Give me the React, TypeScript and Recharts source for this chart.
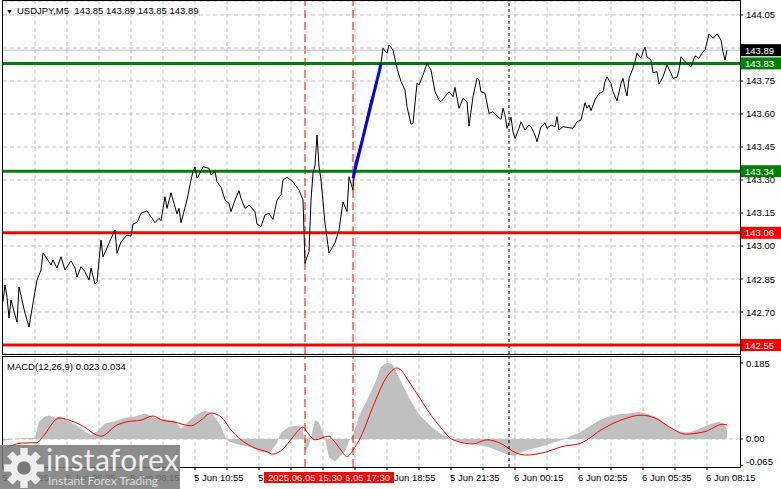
import React from 'react';
import { ComposedChart, Line, Area, XAxis, YAxis, CartesianGrid, ReferenceLine } from 'recharts';

const FONT = '"Liberation Sans", Arial, sans-serif';

// ---- price series (M5 bars counted from 5 Jun 02:55) ----
const priceBars = [0,1,2,3,4,6,7,8,11,13,15,17,19,20,24,25,27,29,31,34,36,37,39,41,43,44,46,47,49,50,53,54,56,57,59,62,64,65,67,69,72,76,78,79,81,82,84,87,88,89,92,94,95,96,97,98,100,103,104,106,107,109,111,113,114,116,118,119,121,123,126,127,129,131,133,135,137,139,140,142,145,148,150,151,152,153,154,155,156,157,158,159,161,163,166,168,170,172,173,175,176,177,180,183,184,186,189,190,192,193,195,197,199,201,202,204,205,207,208,210,212,214,216,218,219,221,223,225,226,228,230,232,233,235,237,238,239,241,243,245,247,249,250,251,252,254,255,256,258,259,261,263,264,266,267,269,271,272,274,276,277,278,280,285,287,289,291,292,293,294,296,298,300,301,302,304,305,307,309,310,311,312,313,315,316,317,319,320,321,322,324,325,327,328,330,332,334,335,337,338,339,341,343,344,346,348,350,351,353,355,357,359,360,361,362];
const priceClose = [142.747,142.823,142.768,142.673,142.754,142.686,142.654,142.814,142.695,142.632,142.741,142.845,142.891,142.969,142.914,142.936,142.900,142.951,142.891,142.933,142.900,142.859,142.906,142.883,142.845,142.899,142.827,142.838,143.027,142.951,143.012,143.035,143.073,142.967,143.019,143.050,143.045,143.100,143.106,143.149,143.160,143.106,143.126,143.115,143.224,143.171,143.242,143.145,143.171,143.106,143.209,143.300,143.338,143.360,143.308,143.323,143.360,143.353,143.323,143.338,143.292,143.267,143.209,143.194,143.156,143.209,143.251,143.217,143.171,143.186,143.156,143.100,143.088,143.141,143.149,143.121,143.209,143.232,143.300,143.312,143.292,143.254,143.209,142.921,142.950,142.974,143.209,143.332,143.368,143.504,143.360,143.300,143.104,142.968,143.014,143.073,143.201,143.156,143.315,143.254,143.377,143.406,143.504,143.627,143.664,143.718,143.830,143.899,143.876,143.914,143.891,143.808,143.747,143.709,143.633,143.554,143.558,143.739,143.732,143.777,143.830,143.800,143.701,143.664,143.656,143.679,143.701,143.679,143.721,143.626,143.671,143.656,143.545,143.679,143.762,143.754,143.701,143.694,143.603,143.610,143.591,143.576,143.626,143.595,143.535,143.585,143.519,143.489,143.535,143.565,143.527,143.550,143.542,143.504,143.474,143.542,143.560,143.535,143.550,143.542,143.588,143.527,143.542,143.535,143.565,143.573,143.651,143.626,143.641,143.615,143.664,143.694,143.701,143.747,143.769,143.739,143.701,143.660,143.739,143.762,143.717,143.682,143.762,143.808,143.838,143.876,143.853,143.883,143.903,143.860,143.845,143.788,143.792,143.736,143.769,143.823,143.785,143.762,143.767,143.800,143.860,143.838,143.823,143.815,143.864,143.853,143.883,143.891,143.964,143.944,143.964,143.936,143.883,143.845,143.890];

// trade projection (blue)
const blueBars = [175, 189];
const blueVals = [143.309, 143.827];

// ---- MACD(12,26,9) ----
const histBars = [0,8,16,18,21,23,26,29,33,37,41,44,47,51,56,61,66,71,76,81,86,89,93,97,101,104,108,111,113,118,123,128,133,137,139,143,147,150,151,153,156,158,161,163,166,168,171,173,175,178,182,186,189,192,195,198,203,208,213,218,223,228,233,238,243,248,253,256,258,263,268,273,278,283,288,293,298,303,308,313,318,323,328,333,338,343,348,353,358,361,362];
const histVals = [-0.005,0.002,0.003,0.042,0.055,0.057,0.052,0.055,0.043,0.032,0.018,0.009,0.018,0.038,0.043,0.052,0.055,0.062,0.052,0.048,0.044,0.025,0.044,0.060,0.068,0.064,0.040,0.006,-0.006,-0.014,-0.018,-0.030,-0.035,-0.010,0.015,0.030,0.032,0.028,-0.030,-0.015,0.045,0.040,0.000,-0.045,-0.055,-0.045,-0.030,-0.005,0.010,0.055,0.095,0.136,0.176,0.186,0.180,0.150,0.100,0.060,0.035,0.015,0.003,-0.006,-0.010,-0.015,-0.020,-0.030,-0.039,-0.042,-0.035,-0.025,-0.020,-0.012,-0.005,0.005,0.015,0.030,0.045,0.055,0.060,0.062,0.066,0.060,0.050,0.030,0.018,0.015,0.025,0.035,0.042,0.035,0.023];
const sigBars = [2,9,17,20,28,33,39,49,57,62,69,75,80,85,94,99,104,109,114,119,126,132,135,140,145,150,152,156,163,165,169,172,175,179,185,192,197,204,209,214,219,225,235,242,249,257,262,272,279,289,292,299,309,319,326,334,341,351,360,362];
const sigVals = [-0.022,-0.010,-0.009,0.006,0.051,0.046,0.034,0.007,0.034,0.042,0.046,0.056,0.045,0.042,0.032,0.046,0.063,0.054,0.022,-0.002,-0.022,-0.031,-0.037,-0.024,0.005,0.029,0.017,-0.002,0.007,-0.002,-0.027,-0.043,-0.027,0.006,0.079,0.152,0.173,0.132,0.095,0.058,0.027,-0.002,-0.012,-0.002,-0.011,-0.035,-0.039,-0.031,-0.019,-0.010,-0.002,0.022,0.046,0.058,0.051,0.027,0.012,0.018,0.036,0.034];

// ---- axes ----
const priceTicks = [144.05, 143.9, 143.75, 143.6, 143.45, 143.3, 143.15, 143.0, 142.85, 142.7, 142.55];
const hiddenPriceTicks = ['143.90', '142.55'];
const macdTicks = [0.185, 0, -0.065];
const macdTickLabels = ['0.185', '0.00', '-0.065'];
const gridBars = [16,32,48,64,80,96,112,128,144,160,176,192,208,224,240,256,272,288,304,320,336,352];
const axisTickBars = [0,16,32,48,64,80,96,112,128,144,160,176,192,208,224,240,256,272,288,304,320,336,352];
const timeLabels = ['5 Jun 2025','5 Jun 05:35','5 Jun 08:15','5 Jun 10:55','5 Jun 13:35','5 Jun 16:15','5 Jun 18:55','5 Jun 21:35','6 Jun 00:15','6 Jun 02:55','6 Jun 05:35','6 Jun 08:15'];
const coveredTimeLabels = ['5 Jun 16:15'];

// levels
const currentPrice = 143.89;
const greenLevels = [143.83, 143.34];
const redLevels = [143.06, 142.55];
const markerBar1 = 151; // 2025.06.05 15:30
const markerBar2 = 175; // 2025.06.05 17:30
const markerLabel1 = '2025.06.05 15:30';
const markerLabel2 = '2025.06.05 17:30';
const daySepBar = 253;

const titleText = 'USDJPY,M5  143.85 143.89 143.85 143.89';
const macdTitle = 'MACD(12,26,9) 0.023 0.034';

const MAIN_DOMAIN: [number, number] = [142.509091, 144.113636];
const MACD_DOMAIN: [number, number] = [-0.06816, 0.20204];
const X_DOMAIN: [number, number] = [0, 368.5];
const FS = 9.5;

function PriceTick(props: any) {
  const { x, y, payload } = props;
  const s = Number(payload.value).toFixed(2);
  if (hiddenPriceTicks.includes(s)) return null;
  return (
    <text x={x} y={y} dy={3.5} fontSize={FS} fontFamily={FONT} fill="#000" textAnchor="start">{s}</text>
  );
}

function MacdTick(props: any) {
  const { x, y, payload } = props;
  const k = macdTicks.indexOf(payload.value);
  const label = k >= 0 ? macdTickLabels[k] : String(payload.value);
  const dy = payload.value < 0 ? -1 : 3.5;
  return (
    <text x={x} y={y} dy={dy} fontSize={FS} fontFamily={FONT} fill="#000" textAnchor="start">{label}</text>
  );
}

function TimeTick(props: any) {
  const { x, y, payload } = props;
  const b = payload.value;
  if (b % 32 !== 0) return null;
  const label = timeLabels[b / 32];
  if (coveredTimeLabels.includes(label)) return null;
  return (
    <text x={x - 1} y={y} dy={8.5} fontSize={FS} fontFamily={FONT} fill="#000" textAnchor="start">{label}</text>
  );
}

function LevelTag(props: any) {
  const { viewBox, text, fill } = props;
  if (!viewBox) return null;
  const x0 = viewBox.x + viewBox.width + 1;
  const y0 = viewBox.y;
  return (
    <g>
      <rect x={x0} y={y0 - 6} width={40} height={12} fill={fill} />
      <text x={x0 + 4} y={y0} dy={3.5} fontSize={FS} fontFamily={FONT} fill="#fff" textAnchor="start">{text}</text>
    </g>
  );
}

function TimeTag(props: any) {
  const { viewBox, text } = props;
  if (!viewBox) return null;
  const cx = viewBox.x;
  const yb = viewBox.y + viewBox.height;
  return (
    <g>
      <rect x={cx - 41} y={yb + 5} width={82} height={11} fill="#ff0000" />
      <text x={cx} y={yb + 5} dy={8.8} fontSize={FS} fontFamily={FONT} fill="#fff" textAnchor="middle">{text}</text>
    </g>
  );
}

export default function App() {
  const priceData = priceBars.map((b, k) => ({ bar: b, price: priceClose[k] }));
  const blueData = blueBars.map((b, k) => ({ bar: b, blue: blueVals[k] }));
  const histData = histBars.map((b, k) => ({ bar: b, hist: histVals[k] }));
  const sigData = sigBars.map((b, k) => ({ bar: b, signal: sigVals[k] }));

  return (
    <div style={{ position: 'absolute', left: 0, top: 0, width: 781, height: 489, background: '#fff', overflow: 'hidden', fontFamily: FONT }}>
      {/* main price panel */}
      <div style={{ position: 'absolute', left: 0, top: 0 }}>
        <ComposedChart width={781} height={357} margin={{ top: 1, right: 0, bottom: 3, left: 3 }}>
          <XAxis type="number" dataKey="bar" domain={X_DOMAIN} hide allowDataOverflow />
          <YAxis
            orientation="right"
            type="number"
            domain={MAIN_DOMAIN}
            ticks={priceTicks}
            interval={0}
            width={41}
            allowDataOverflow
            axisLine={false}
            tickLine={{ stroke: '#000' }}
            tickSize={3}
            tickMargin={3}
            tick={(p: any) => <PriceTick {...p} />}
          />
          <CartesianGrid vertical={false} stroke="#c0c0c0" strokeDasharray="4 3" />
          {gridBars.map((b) => (
            <ReferenceLine key={'g' + b} x={b} stroke="#c0c0c0" strokeDasharray="4 3" />
          ))}
          <ReferenceLine x={daySepBar} stroke="#000" strokeDasharray="3 3" />
          <ReferenceLine x={markerBar1} stroke="#ff0000" strokeDasharray="8 4" />
          <ReferenceLine x={markerBar2} stroke="#ff0000" strokeDasharray="8 4" />
          <ReferenceLine y={currentPrice} stroke="#c0c0c0" label={<LevelTag text={currentPrice.toFixed(2)} fill="#000" />} />
          {greenLevels.map((v) => (
            <ReferenceLine key={'gl' + v} y={v} stroke="#008000" strokeWidth={3} label={<LevelTag text={v.toFixed(2)} fill="#008000" />} />
          ))}
          {redLevels.map((v) => (
            <ReferenceLine key={'rl' + v} y={v} stroke="#ff0000" strokeWidth={3} label={<LevelTag text={v.toFixed(2)} fill="#ff0000" />} />
          ))}
          <Line data={priceData} dataKey="price" type="linear" stroke="#000" strokeWidth={1} dot={false} isAnimationActive={false} />
          <Line data={blueData} dataKey="blue" type="linear" stroke="#0000ff" strokeWidth={3} dot={false} isAnimationActive={false} />
        </ComposedChart>
      </div>

      {/* MACD panel */}
      <div style={{ position: 'absolute', left: 0, top: 356 }}>
        <ComposedChart width={781} height={133} margin={{ top: 0, right: 0, bottom: 0, left: 3 }}>
          <XAxis
            type="number"
            dataKey="bar"
            domain={X_DOMAIN}
            ticks={axisTickBars}
            interval={0}
            height={22}
            allowDataOverflow
            axisLine={false}
            tickLine={{ stroke: '#000' }}
            tickSize={3}
            tickMargin={2}
            tick={(p: any) => <TimeTick {...p} />}
          />
          <YAxis
            orientation="right"
            type="number"
            domain={MACD_DOMAIN}
            ticks={macdTicks}
            interval={0}
            width={41}
            allowDataOverflow
            axisLine={false}
            tickLine={{ stroke: '#000' }}
            tickSize={3}
            tickMargin={3}
            tick={(p: any) => <MacdTick {...p} />}
          />
          {gridBars.map((b) => (
            <ReferenceLine key={'mg' + b} x={b} stroke="#c0c0c0" strokeDasharray="4 3" />
          ))}
          <ReferenceLine y={0} stroke="#c0c0c0" strokeDasharray="4 3" />
          <Area data={histData} dataKey="hist" type="linear" fill="#c0c0c0" fillOpacity={1} stroke="none" baseValue={0} isAnimationActive={false} />
          <Line data={sigData} dataKey="signal" type="monotone" stroke="#ff0000" strokeWidth={1} dot={false} isAnimationActive={false} />
          <ReferenceLine x={daySepBar} stroke="#000" strokeDasharray="3 3" />
          <ReferenceLine x={markerBar2} stroke="#ff0000" strokeDasharray="8 4" />
          <ReferenceLine x={markerBar1} stroke="#ff0000" strokeDasharray="8 4" />
        </ComposedChart>
      </div>

      {/* time tags of the vertical markers, drawn above the time axis */}
      <div style={{ position: 'absolute', left: 0, top: 356 }}>
        <ComposedChart width={781} height={133} margin={{ top: 0, right: 0, bottom: 0, left: 3 }}>
          <XAxis type="number" dataKey="bar" domain={X_DOMAIN} height={22} allowDataOverflow axisLine={false} tickLine={false} tick={false} />
          <YAxis orientation="right" type="number" domain={MACD_DOMAIN} width={41} allowDataOverflow axisLine={false} tickLine={false} tick={false} />
          <ReferenceLine x={markerBar2} stroke="none" label={<TimeTag text={markerLabel2} />} />
          <ReferenceLine x={markerBar1} stroke="none" label={<TimeTag text={markerLabel1} />} />
        </ComposedChart>
      </div>

      {/* panel borders */}
      <div style={{ position: 'absolute', left: 2, top: 0, width: 739, height: 355, border: '1px solid #000', boxSizing: 'border-box', pointerEvents: 'none' }} />
      <div style={{ position: 'absolute', left: 2, top: 356, width: 739, height: 112, border: '1px solid #000', boxSizing: 'border-box', pointerEvents: 'none' }} />

      {/* titles */}
      <div style={{ position: 'absolute', left: 6, top: 4, fontSize: FS, lineHeight: '13px', color: '#000', whiteSpace: 'pre' }}>
        <span style={{ fontSize: 7, marginRight: 4 }}>▼</span>{titleText}
      </div>
      <div style={{ position: 'absolute', left: 7, top: 360, fontSize: FS, lineHeight: '13px', color: '#000', whiteSpace: 'pre' }}>{macdTitle}</div>

      {/* watermark */}
      <div style={{ position: 'absolute', left: 0, top: 445, width: 180, height: 44, background: 'rgba(120,120,120,0.85)' }}>
        <svg width={42} height={42} viewBox="0 0 40 40" style={{ position: 'absolute', left: 3, top: 2 }}>
          {[0, 45, 90, 135, 180, 225, 270, 315].map((a) => (
            <rect key={a} x={16.5} y={1} width={7} height={8} fill="#eeeeee" transform={`rotate(${a} 20 20)`} />
          ))}
          <circle cx={20} cy={20} r={13} fill="#eeeeee" />
          <circle cx={20} cy={20} r={6.5} fill="#7a7a7a" />
        </svg>
        <div style={{ position: 'absolute', left: 46, top: -4, fontFamily: 'Lato, "Open Sans", sans-serif', fontSize: 30, color: '#eeeeee', letterSpacing: 0.3 }}>instaforex</div>
        <div style={{ position: 'absolute', left: 48, top: 28, fontFamily: 'Lato, "Open Sans", sans-serif', fontSize: 12, color: '#dddddd' }}>Instant Forex Trading</div>
      </div>
    </div>
  );
}
